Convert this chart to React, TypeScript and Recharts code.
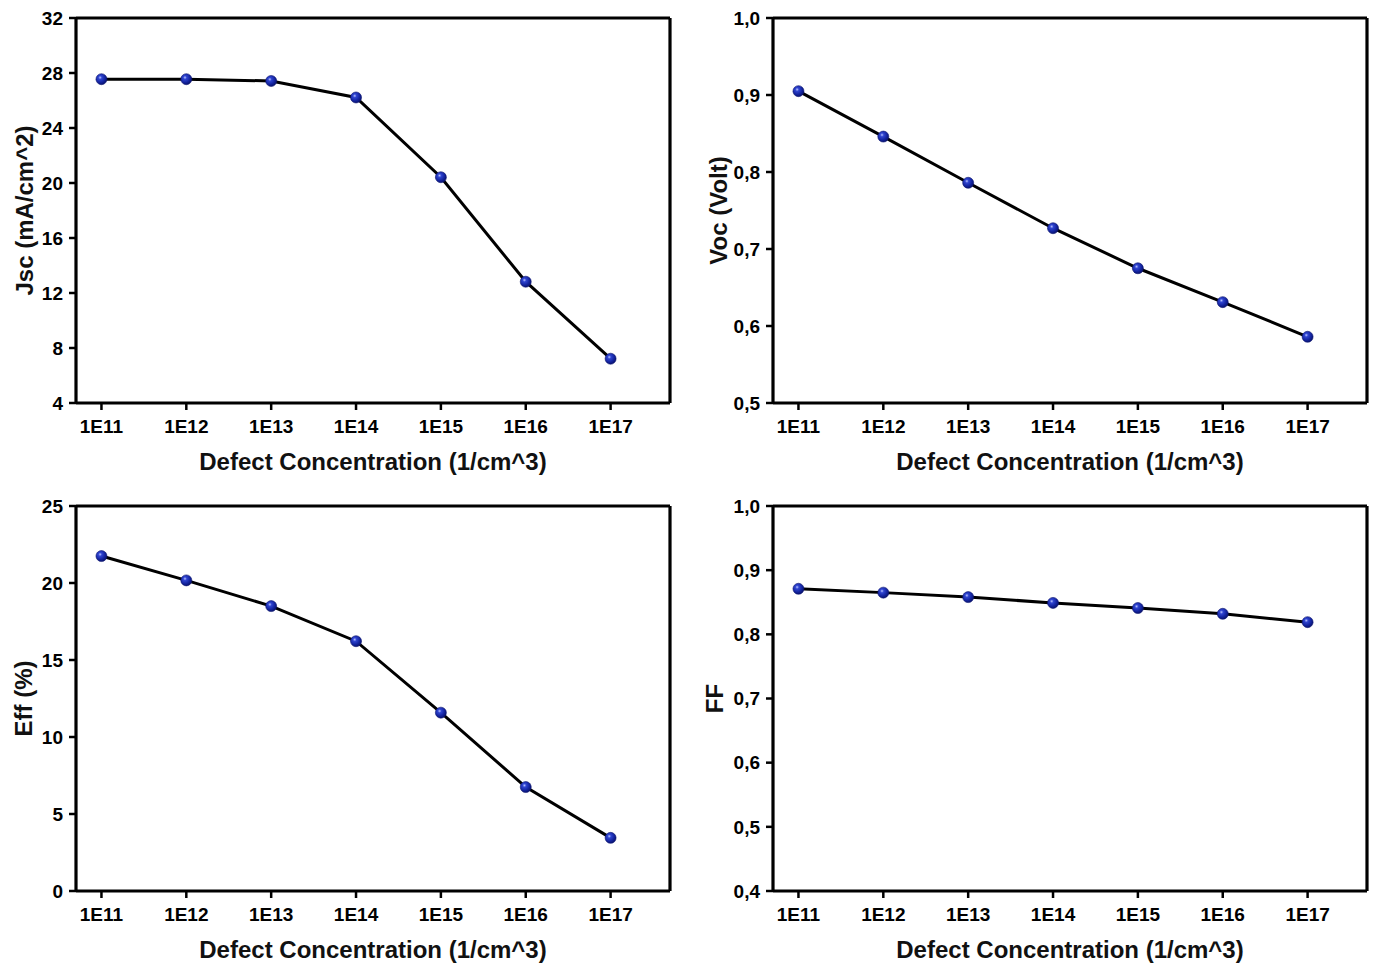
import React from "react";
import { LineChart, Line, XAxis, YAxis, ReferenceLine, Label } from "recharts";

const concentrations = ["1E11", "1E12", "1E13", "1E14", "1E15", "1E16", "1E17"];
const jscValues = [27.55, 27.55, 27.42, 26.22, 20.42, 12.82, 7.22];
const vocValues = [0.905, 0.846, 0.786, 0.727, 0.675, 0.631, 0.586];
const effValues = [21.75, 20.17, 18.5, 16.22, 11.58, 6.75, 3.45];
const ffValues = [0.871, 0.865, 0.858, 0.849, 0.841, 0.832, 0.819];

const jscTicks = [4, 8, 12, 16, 20, 24, 28, 32];
const vocTicks = [0.5, 0.6, 0.7, 0.8, 0.9, 1.0];
const effTicks = [0, 5, 10, 15, 20, 25];
const ffTicks = [0.4, 0.5, 0.6, 0.7, 0.8, 0.9, 1.0];

const FONT = "'Liberation Sans', Arial, Helvetica, sans-serif";
const X_MIN = -0.3;
const X_MAX = 6.7;

const tickStyle = { fill: "#000", fontSize: 19, fontWeight: 700, fontFamily: FONT };
const comma = (v: number) => v.toFixed(1).replace(".", ",");
const plain = (v: number) => String(v);

function Ball(props: any) {
    const { cx, cy, index } = props;
    if (cx == null || cy == null) return <g key={index} />;
    return <circle key={index} cx={cx} cy={cy} r={5.5} fill="url(#ballGrad)" stroke="#0b1470" strokeWidth={0.6} />;
}

interface PanelProps {
    left: number;
    top: number;
    values: number[];
    ticks: number[];
    fmt: (v: number) => string;
    yTitle: string;
    titleX: number;
}

function Panel({ left, top, values, ticks, fmt, yTitle, titleX }: PanelProps) {
    const data = values.map((v, i) => ({ x: i, y: v }));
    const yMin = ticks[0];
    const yMax = ticks[ticks.length - 1];
    return (
        <div style={{ position: "absolute", left, top }}>
            <LineChart width={680} height={482} data={data} margin={{ top: 18, right: 10, bottom: 0, left: 0 }}>
                <XAxis
                    dataKey="x"
                    type="number"
                    domain={[X_MIN, X_MAX]}
                    ticks={[0, 1, 2, 3, 4, 5, 6]}
                    tickFormatter={(i: number) => concentrations[i]}
                    height={79}
                    tickSize={7}
                    tickMargin={10}
                    tick={tickStyle}
                    axisLine={{ stroke: "#000", strokeWidth: 3.2 }}
                    tickLine={{ stroke: "#000", strokeWidth: 2.5 }}
                    allowDataOverflow
                >
                    <Label
                        content={(p: any) => {
                            const vb = p.viewBox;
                            return (
                                <text x={vb.x + vb.width / 2} y={vb.y + 67} textAnchor="middle" fill="#111" fontSize={24} fontWeight={700} fontFamily={FONT}>
                                    Defect Concentration (1/cm^3)
                                </text>
                            );
                        }}
                    />
                </XAxis>
                <YAxis
                    type="number"
                    domain={[yMin, yMax]}
                    ticks={ticks}
                    tickFormatter={fmt}
                    width={76}
                    tickSize={7}
                    tickMargin={6}
                    tick={tickStyle}
                    axisLine={{ stroke: "#000", strokeWidth: 3.2 }}
                    tickLine={{ stroke: "#000", strokeWidth: 2.5 }}
                    allowDataOverflow
                >
                    <Label
                        content={(p: any) => {
                            const vb = p.viewBox;
                            const cy = vb.y + vb.height / 2;
                            return (
                                <text x={titleX} y={cy} transform={`rotate(-90, ${titleX}, ${cy})`} textAnchor="middle" fill="#111" fontSize={24} fontWeight={700} fontFamily={FONT}>
                                    {yTitle}
                                </text>
                            );
                        }}
                    />
                </YAxis>
                <ReferenceLine y={yMax} stroke="#000" strokeWidth={3.2} />
                <ReferenceLine x={X_MAX} stroke="#000" strokeWidth={3.2} />
                <Line type="linear" dataKey="y" stroke="#000" strokeWidth={3} dot={Ball} activeDot={false} isAnimationActive={false} />
            </LineChart>
        </div>
    );
}

export default function App() {
    return (
        <div style={{ position: "absolute", left: 0, top: 0, width: 1375, height: 964, overflow: "hidden", background: "#fff" }}>
            <svg width={0} height={0} style={{ position: "absolute" }}>
                <defs>
                    <radialGradient id="ballGrad" cx="38%" cy="35%" r="65%">
                        <stop offset="0%" stopColor="#b8c2ff" />
                        <stop offset="25%" stopColor="#2f44d0" />
                        <stop offset="70%" stopColor="#13239e" />
                        <stop offset="100%" stopColor="#0a1470" />
                    </radialGradient>
                </defs>
            </svg>
            <Panel left={0} top={0} values={jscValues} ticks={jscTicks} fmt={plain} yTitle="Jsc (mA/cm^2)" titleX={33} />
            <Panel left={697} top={0} values={vocValues} ticks={vocTicks} fmt={comma} yTitle="Voc (Volt)" titleX={30} />
            <Panel left={0} top={488} values={effValues} ticks={effTicks} fmt={plain} yTitle="Eff (%)" titleX={32} />
            <Panel left={697} top={488} values={ffValues} ticks={ffTicks} fmt={comma} yTitle="FF" titleX={26} />
        </div>
    );
}
